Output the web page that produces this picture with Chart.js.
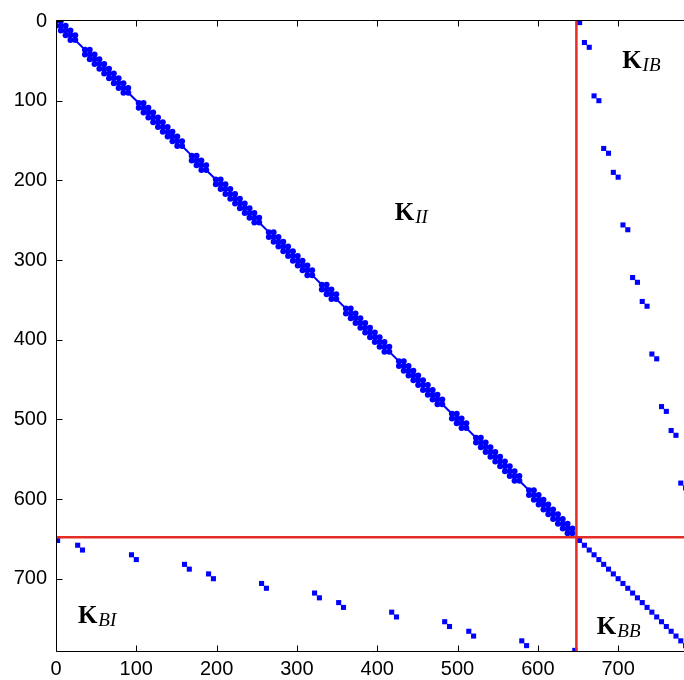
<!DOCTYPE html>
<html><head><meta charset="utf-8">
<script src="https://cdn.jsdelivr.net/npm/chart.js@4.4.0/dist/chart.umd.min.js"></script>
<style>html,body{margin:0;padding:0;background:#fff;overflow:hidden}#wrap{position:relative;width:684px;height:680px}</style>
</head><body><div id="wrap"><canvas id="c"></canvas></div>
<script>
// ---- data ----
const matrixSize = 792;
const interfaceIndex = 648;
const xMaxShown = 782;
const xTicks = [0, 100, 200, 300, 400, 500, 600, 700];
const yTicks = [0, 100, 200, 300, 400, 500, 600, 700];
// diagonal block nodes of K_II, grouped into segments (thin links between segments)
const seg1 = [0, 6, 12, 18, 24];
const seg2 = [36, 42, 48, 54, 60, 66, 72, 78, 84, 90];
const seg3 = [103, 109, 115, 121, 127, 133, 139, 145, 151, 157];
const seg4 = [169, 175, 181, 187];
const seg5 = [199, 205, 211, 217, 223, 229, 235, 241, 247, 253];
const seg6 = [265, 271, 277, 283, 289, 295, 301, 307, 313, 319];
const seg7 = [331, 337, 343, 349];
const seg8 = [361, 367, 373, 379, 385, 391, 397, 403, 409, 415];
const seg9 = [427, 433, 439, 445, 451, 457, 463, 469, 475, 481];
const seg10 = [493, 499, 505, 511];
const seg11 = [523, 529, 535, 541, 547, 553, 559, 565, 571, 577];
const seg12 = [589, 595, 601, 607, 613, 619, 625, 631, 637, 643];
const bandSegments = [seg1, seg2, seg3, seg4, seg5, seg6, seg7, seg8, seg9, seg10, seg11, seg12];
// boundary dofs and their coupled interior dofs
const boundaryIdx = [652, 658, 664, 670, 676, 682, 688, 694, 700, 706, 712, 718, 724, 730, 736, 742, 748, 754, 760, 766, 772, 778, 784, 790];
const interiorPartner = [2, 27, 33, 94, 100, 160, 166, 190, 196, 256, 262, 322, 328, 352, 358, 418, 424, 484, 490, 514, 520, 580, 586, 646];
// block labels
const labelSubs = ['II', 'IB', 'BI', 'BB'];
const labelX = [421.8, 705, 27.3, 673.5];
const labelY = [249.3, 59.3, 755.6, 769];

// ---- build datasets ----
const BLUE = '#0000ff';
const RED = 'rgb(228,45,38)';
const bandPts = [];
bandSegments.forEach(seg => {
  seg.forEach((n, i) => {
    bandPts.push({x: n, y: n});
    if (i + 1 < seg.length) {
      bandPts.push({x: n, y: seg[i + 1]});
      bandPts.push({x: seg[i + 1], y: n});
    }
  });
});
const linkSets = [];
for (let i = 0; i + 1 < bandSegments.length; i++) {
  const a = bandSegments[i][bandSegments[i].length - 1];
  const b = bandSegments[i + 1][0];
  linkSets.push({
    data: [{x: a, y: a}, {x: b, y: b}], showLine: true, borderColor: BLUE,
    borderWidth: 2, pointRadius: 0, order: 3
  });
}
const ibPts = boundaryIdx.map((b, k) => ({x: b, y: interiorPartner[k]}));
const biPts = boundaryIdx.map((b, k) => ({x: interiorPartner[k], y: b}));
const bbPts = boundaryIdx.map(b => ({x: b, y: b}));

const datasets = [
  {data: [{x: interfaceIndex, y: 0}, {x: interfaceIndex, y: matrixSize}], showLine: true,
   borderColor: RED, borderWidth: 2.5, pointRadius: 0, order: 0},
  {data: [{x: 0, y: interfaceIndex}, {x: xMaxShown, y: interfaceIndex}], showLine: true,
   borderColor: RED, borderWidth: 2.5, pointRadius: 0, order: 0},
  {data: bandPts, pointStyle: 'circle', pointRadius: 3.0, backgroundColor: BLUE,
   borderWidth: 0, pointBorderWidth: 0, order: 2},
  ...linkSets,
  {data: ibPts.concat(biPts, bbPts), pointStyle: 'rect', pointRadius: 3.6, backgroundColor: BLUE,
   borderWidth: 0, pointBorderWidth: 0, order: 1}
];

const decor = {
  id: 'decor',
  afterDraw(chart) {
    const {ctx, chartArea: a, scales: {x, y}} = chart;
    ctx.save();
    ctx.strokeStyle = '#000';
    ctx.lineWidth = 1;
    const L = a.left + 0.5, B = a.bottom - 0.5, T = a.top - 0.5;
    ctx.beginPath();
    ctx.moveTo(L, T); ctx.lineTo(L, B); ctx.lineTo(a.right + 1, B);
    ctx.moveTo(L, T); ctx.lineTo(a.right + 1, T);
    xTicks.forEach(v => {
      const p = Math.round(x.getPixelForValue(v)) + 0.5;
      ctx.moveTo(p, B); ctx.lineTo(p, B - 6);
      ctx.moveTo(p, T); ctx.lineTo(p, T + 6);
    });
    yTicks.forEach(v => {
      const p = Math.round(y.getPixelForValue(v)) + 0.5;
      ctx.moveTo(L, p); ctx.lineTo(L + 6, p);
    });
    ctx.stroke();
    ctx.fillStyle = '#000';
    ctx.textBaseline = 'alphabetic';
    ctx.textAlign = 'left';
    labelSubs.forEach((s, i) => {
      const px = x.getPixelForValue(labelX[i]);
      const py = y.getPixelForValue(labelY[i]);
      ctx.font = 'bold 25px "Liberation Serif"';
      ctx.fillText('K', px, py);
      const w = ctx.measureText('K').width;
      ctx.font = 'italic 19px "Liberation Serif"';
      ctx.fillText(s, px + w + 1, py + 3);
    });
    ctx.restore();
  }
};

const tickFont = {family: '"Liberation Sans", Arial, sans-serif', size: 20};
new Chart(document.getElementById('c'), {
  type: 'scatter',
  data: {datasets},
  options: {
    responsive: true, maintainAspectRatio: false, animation: false,
    layout: {autoPadding: false, padding: {top: 16, left: 0, right: 0, bottom: 0}},
    plugins: {legend: {display: false}, tooltip: {enabled: false}},
    scales: {
      x: {
        type: 'linear', position: 'bottom', min: 0, max: xMaxShown,
        afterBuildTicks: s => { s.ticks = xTicks.map(v => ({value: v})); },
        afterFit: s => { s.height = 28; },
        ticks: {font: tickFont, color: '#000', padding: 5, maxRotation: 0, autoSkip: false,
                callback: v => String(v)},
        grid: {display: false, drawTicks: false},
        border: {display: false}
      },
      y: {
        type: 'linear', position: 'left', reverse: true, min: 0, max: matrixSize,
        afterBuildTicks: s => { s.ticks = yTicks.map(v => ({value: v})); },
        afterFit: s => { s.width = 56; },
        ticks: {font: tickFont, color: '#000', padding: 9, autoSkip: false,
                callback: v => String(v)},
        grid: {display: false, drawTicks: false},
        border: {display: false}
      }
    }
  },
  plugins: [decor]
});
</script>
</body></html>
